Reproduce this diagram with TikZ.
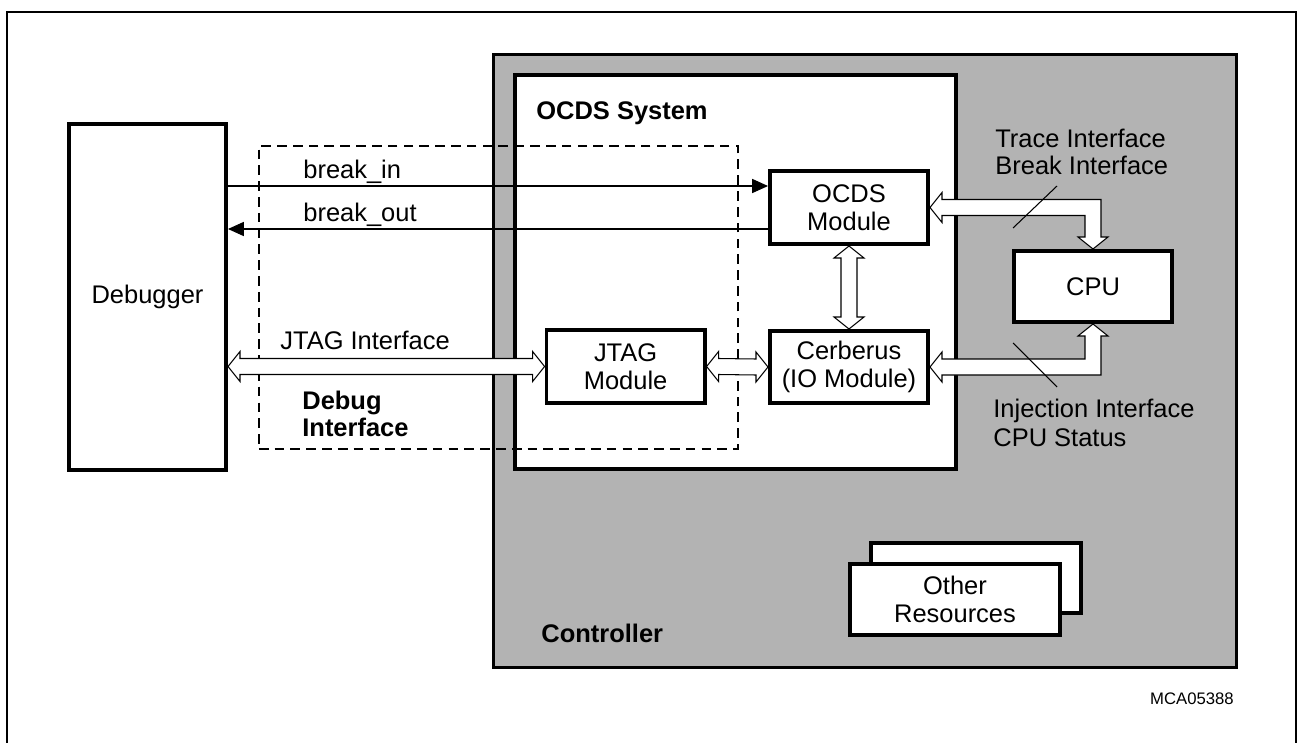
\documentclass[tikz,border=0pt]{standalone}
\usepackage{fontspec}
\setmainfont{Liberation Sans}
\usepackage{tikz}
\usetikzlibrary{positioning,arrows.meta,calc}
\definecolor{gris}{RGB}{179,179,179}
\tikzset{
  modulo/.style   = {draw, line width=2pt, fill=white, inner sep=0pt, align=center},
  marco/.style    = {draw, line width=1pt},
  punteado/.style = {draw, line width=1pt, dash pattern=on 5.5pt off 3.5pt, inner sep=0pt},
  etiqueta/.style = {inner sep=0pt, align=left},
  bus/.style      = {draw, fill=white, line width=0.6pt},
  flecha/.style   = {line width=0.6pt, -{Triangle[length=9pt,width=8pt]}}
}
% hollow bus arrows: left/right, top/bottom, and bent (sign 1 = end lies lower)
\newcommand{\hbus}[2]{\draw[bus] (#1) -- ++(12,-15) -- ++(0,7) -- ($(#2)+(-12,-8)$) -- ++(0,-7) -- (#2) -- ++(-12,15) -- ++(0,-7) -- ($(#1)+(12,8)$) -- ++(0,7) -- cycle;}
\newcommand{\vbus}[2]{\draw[bus] (#1) -- ++(15,12) -- ++(-7,0) -- ($(#2)+(8,-12)$) -- ++(7,0) -- (#2) -- ++(-15,-12) -- ++(7,0) -- ($(#1)+(-8,12)$) -- ++(-7,0) -- cycle;}
\newcommand{\lbus}[3]{\draw[bus] (#1) -- ++(12,{-(#3)*15}) -- ++(0,{(#3)*7}) -- ($(#1 -| #2)+(8,{-(#3)*8})$) -- ($(#2)+(8,{-(#3)*12})$) -- ++(7,0) -- (#2) -- ++(-15,{-(#3)*12}) -- ++(7,0) -- ($(#1 -| #2)+(-8,{(#3)*8})$) -- ($(#1)+(12,{(#3)*8})$) -- ++(0,{(#3)*7}) -- cycle;}

\begin{document}
\begin{tikzpicture}[x=0.02cm, y=-0.02cm, font=\fontsize{14.5}{16}\selectfont]
    \useasboundingbox (0,0) rectangle (1297,743);
    \draw[marco] (7,12) rectangle (1296,760);

    \node[modulo, fill=gris, minimum width=14.86cm, minimum height=12.26cm] (ctrl) at (864.85,360.85) {};
    \node[modulo, minimum width=8.82cm, minimum height=7.88cm] (sys) at (735.6,272.2) {};
    \node[modulo, minimum width=4.21cm, minimum height=1.41cm] (otros2) at (976,578) {};
    \node[modulo, minimum width=4.21cm, minimum height=1.43cm] (otros) at (955,599.5) {Other\\Resources};
    \node[modulo, minimum width=3.15cm, minimum height=6.93cm] (dbg) at (147.5,297) {Debugger};
    \node[punteado, minimum width=9.58cm, minimum height=6.07cm] (dbgif) at (498.3,297.5) {};

    \node[modulo, minimum width=3.17cm, minimum height=1.47cm] (ocds) at (849,207.5) {OCDS\\Module};
    \node[modulo, minimum width=3.17cm, minimum height=1.45cm] (cerb) at (849,367) {Cerberus\\(IO Module)};
    \node[modulo, minimum width=3.17cm, minimum height=1.47cm] (jtag) at (625.6,366.5) {JTAG\\Module};
    \node[modulo, minimum width=3.17cm, minimum height=1.43cm] (cpu) at (1093,286.5) {CPU};

    \coordinate (bin) at ([yshift=0.43cm]ocds.west);
    \coordinate (bout) at ([yshift=-0.43cm]ocds.west);
    \coordinate (jin) at (dbg.east |- jtag.west);
    \draw[flecha] (dbg.east |- bin) -- (bin);
    \draw[flecha] (bout) -- (dbg.east |- bout);

    \hbus{jin}{jtag.west}
    \hbus{jtag.east}{cerb.west}
    \vbus{ocds.south}{cerb.north}
    \lbus{ocds.east}{cpu.north}{1}
    \lbus{cerb.east}{cpu.south}{-1}

    \draw[line width=0.6pt] (1013,228) -- (1057,186);
    \draw[line width=0.6pt] (1013,343) -- (1057,387);

    \node[etiqueta, anchor=base west] (lbin) at (303,178) {break\_in};
    \node[etiqueta, anchor=base west] (lbout) at (303,221) {break\_out};
    \node[etiqueta, anchor=base west] (ljtag) at (280,349) {JTAG Interface};
    \node[etiqueta, anchor=north west, font=\fontsize{14.5}{15.4}\selectfont\bfseries] (ldbg) at (302,391) {Debug\\Interface};
    \node[etiqueta, anchor=north west, font=\fontsize{14.5}{15.4}\selectfont] (ltrace) at (995,129) {Trace Interface\\Break Interface};
    \node[etiqueta, anchor=north west, font=\fontsize{14.5}{16.4}\selectfont] (linj) at (993,399) {Injection Interface\\CPU Status};
    \node[etiqueta, anchor=north west, font=\fontsize{14.5}{16}\selectfont\bfseries] (lsys) at (536,101) {OCDS System};
    \node[etiqueta, anchor=west, font=\fontsize{14.5}{16}\selectfont\bfseries] (lctrl) at (541,633) {Controller};
    \node[etiqueta, anchor=east, font=\fontsize{9.5}{11}\selectfont] (lref) at (1234,699) {MCA05388};
  \end{tikzpicture}
\end{document}
